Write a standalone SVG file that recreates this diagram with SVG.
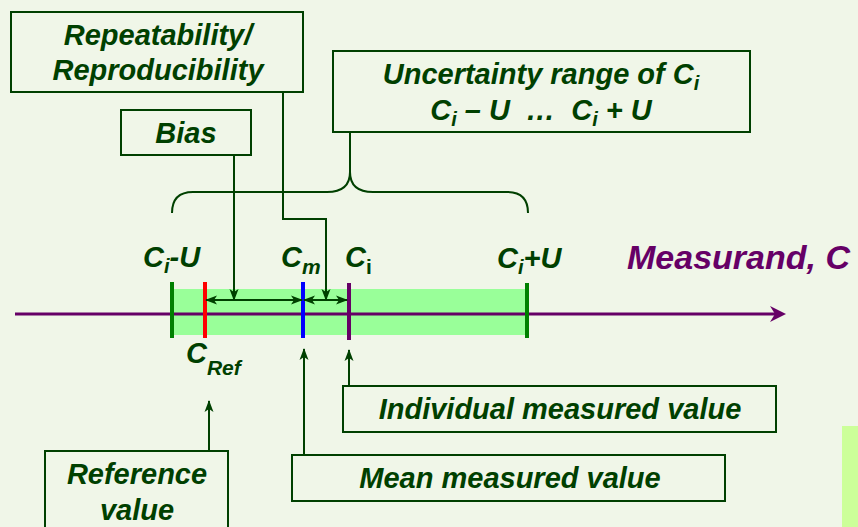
<svg xmlns="http://www.w3.org/2000/svg" width="858" height="527" viewBox="0 0 858 527">
<style>
.box{fill:none;stroke:#004000;stroke-width:2}
.t{font-family:"Liberation Sans",Arial,sans-serif;font-weight:bold;font-style:italic;fill:#004000;font-size:29px}
.lbl{font-family:"Liberation Sans",Arial,sans-serif;font-weight:bold;font-style:italic;fill:#004000;font-size:29px}
.con{fill:none;stroke:#004000;stroke-width:2}
.tick{stroke-width:4}
</style>
<defs>
<marker id="ah" markerUnits="userSpaceOnUse" markerWidth="12" markerHeight="10" refX="11" refY="4.5" orient="auto-start-reverse" viewBox="0 0 12 9">
<path d="M0,0 L12,4.5 L0,9 L3,4.5 Z" fill="#004000"/>
</marker>
</defs>
<rect x="0" y="0" width="858" height="527" fill="#F0F6E8"/>
<rect x="842" y="426" width="16" height="101" fill="#CCFF99"/>

<g id="band">
<rect x="173" y="289" width="355" height="46" fill="#99FF99"/>
</g>

<g id="axis">
<line x1="15" y1="314" x2="776" y2="314" stroke="#660066" stroke-width="3"/>
<path d="M786,314 L770,306 L775,314 L770,322 Z" fill="#660066"/>
<text x="627" y="269" style="font-family:'Liberation Sans',Arial,sans-serif;font-weight:bold;font-style:italic;font-size:34px" fill="#660066">Measurand, C</text>
</g>

<g id="ticks">
<line class="tick" x1="172" y1="282" x2="172" y2="338" stroke="#008000"/>
<line class="tick" x1="205" y1="282" x2="205" y2="338" stroke="#FF0000"/>
<line class="tick" x1="303" y1="282" x2="303" y2="338" stroke="#0000FF"/>
<line class="tick" x1="349" y1="283" x2="349" y2="340" stroke="#660066"/>
<line class="tick" x1="527" y1="283" x2="527" y2="338" stroke="#008000"/>
</g>

<g id="axis-labels">
<text class="lbl" x="143" y="267">C<tspan font-size="20" dy="6">i</tspan><tspan dy="-6">-U</tspan></text>
<text class="lbl" x="281" y="267">C<tspan font-size="21" dy="7">m</tspan></text>
<text class="lbl" x="345" y="267">C<tspan font-size="21" dy="7" font-style="normal">i</tspan></text>
<text class="lbl" x="497" y="268">C<tspan font-size="20" dy="6">i</tspan><tspan dy="-6">+U</tspan></text>
<text class="lbl" x="186" y="363">C<tspan font-size="21" dy="12">Ref</tspan></text>
</g>

<g id="repeat">
<rect class="box" x="11" y="12" width="292" height="80"/>
<text class="t" x="158" y="45" text-anchor="middle">Repeatability/</text>
<text class="t" x="158" y="80" text-anchor="middle">Reproducibility</text>
</g>

<g id="bias">
<rect class="box" x="121" y="110" width="130" height="45"/>
<text class="t" x="186" y="143" text-anchor="middle">Bias</text>
</g>

<g id="uncertainty">
<rect class="box" x="333" y="51" width="417" height="81"/>
<text class="t" x="541" y="84" text-anchor="middle">Uncertainty range of C<tspan font-size="20" dy="6">i</tspan></text>
<text class="t" x="541" y="120" text-anchor="middle" xml:space="preserve">C<tspan font-size="20" dy="6">i</tspan><tspan dy="-6"> – U  …  C</tspan><tspan font-size="20" dy="6">i</tspan><tspan dy="-6"> + U</tspan></text>
</g>

<g id="individual">
<rect class="box" x="343" y="386" width="433" height="46"/>
<text class="t" x="560" y="419" text-anchor="middle">Individual measured value</text>
</g>

<g id="mean">
<rect class="box" x="292" y="455" width="433" height="46"/>
<text class="t" x="510" y="488" text-anchor="middle">Mean measured value</text>
</g>

<g id="reference">
<rect class="box" x="45" y="451" width="183" height="90"/>
<text class="t" x="137" y="484" text-anchor="middle">Reference</text>
<text class="t" x="137" y="520" text-anchor="middle">value</text>
</g>

<g id="connectors">
<path class="con" d="M172,213 Q172,192 193,192 L327,192 Q350,192 350,172 Q350,192 373,192 L507,192 Q528,192 528,213"/>
<line class="con" x1="350" y1="132" x2="350" y2="172"/>
<line class="con" x1="234" y1="155" x2="234" y2="300" marker-end="url(#ah)"/>
<polyline class="con" points="283,92 283,219 326,219 326,300" marker-end="url(#ah)"/>
<line class="con" x1="206" y1="300" x2="302" y2="300" marker-start="url(#ah)" marker-end="url(#ah)"/>
<line class="con" x1="304" y1="300" x2="347" y2="300" marker-start="url(#ah)" marker-end="url(#ah)"/>
<line class="con" x1="304" y1="455" x2="304" y2="349" marker-end="url(#ah)"/>
<line class="con" x1="349" y1="386" x2="349" y2="350" marker-end="url(#ah)"/>
<line class="con" x1="209" y1="451" x2="209" y2="401" marker-end="url(#ah)"/>
</g>
</svg>
